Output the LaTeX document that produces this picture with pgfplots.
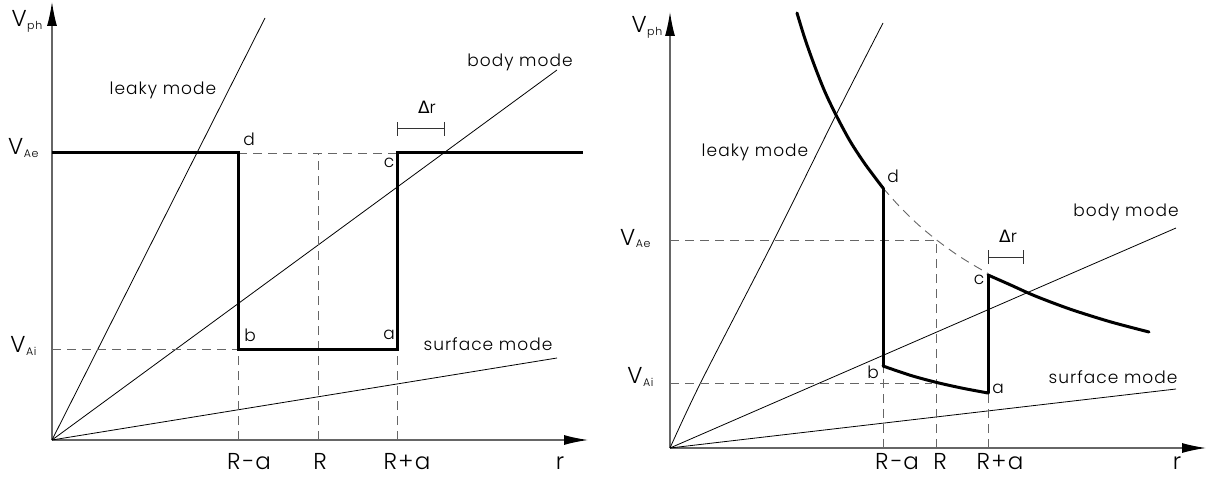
\documentclass[border=0pt]{standalone}
\usepackage{pgfplots}
\pgfplotsset{compat=1.18}
\usepackage{fontspec}
\setmainfont{Poppins Light}[LetterSpace=6]
\newfontfamily\symf{DejaVu Sans}
\usetikzlibrary{arrows.meta}

% V with a small lowered subscript, as in the drawing
\newcommand{\Vsub}[1]{V\kern0.5pt\raisebox{-3pt}{\fontsize{11}{11}\selectfont #1}}

\pgfplotsset{
  panel/.style={width=536pt, scale only axis, xmin=0, xmax=536, ymin=0,
    hide axis, clip=false},
  thin/.style={black, line width=0.8pt},
  heavy/.style={black, line width=3pt, line cap=round},
  dash/.style={black!60, line width=0.9pt, dash pattern=on 9pt off 6pt},
  ax/.style={black!60, line width=1.2pt, -{Latex[length=24pt,width=10pt,color=black]}},
  bar/.style={black!80, line width=1pt, {Bar[width=14pt]}-{Bar[width=14pt]}},
}
\tikzset{
  lbl/.style={font=\fontsize{17}{17}\selectfont},
  tk/.style={font=\fontsize{23}{23}\selectfont, anchor=base},
  pt/.style={font=\fontsize{17}{17}\selectfont},
  vl/.style={font=\fontsize{23}{23}\selectfont},
}

\begin{document}
\begin{tikzpicture}
\useasboundingbox (0,0) rectangle (1207pt,477pt);

% ---------- left: uniform tube ----------
\begin{axis}[panel, height=438pt, ymax=438, at={(52pt,37pt)}, anchor=south west]
  \addplot[ax] coordinates {(0,0) (536,0)};
  \addplot[ax] coordinates {(0,0) (0,438)};
  % modes
  \addplot[thin] coordinates {(0,0) (213,422)};
  \addplot[thin] coordinates {(0,0) (505,370)};
  \addplot[thin] coordinates {(0,0) (505,82)};
  % guides
  \addplot[dash] coordinates {(186,287) (345,287)};
  \addplot[dash] coordinates {(0,91) (186,91)};
  \addplot[dash] coordinates {(186,0) (186,91)};
  \addplot[dash] coordinates {(266,0) (266,287)};
  \addplot[dash] coordinates {(345,0) (345,91)};
  % Alfven speed profile
  \addplot[heavy, line cap=butt] coordinates {(0,287) (186,287) (186,91) (345,91) (345,287) (531,287)};
  \addplot[bar] coordinates {(345,311) (393,311)};

  \node[lbl] at (111,350) {leaky mode};
  \node[lbl] at (468,378) {body mode};
  \node[lbl] at (436,96) {surface mode};
  \node[pt] at (375,333) {{\symf Δ}r};
  \node[pt] at (197,301) {d};
  \node[pt] at (337,277) {c};
  \node[pt] at (198,105) {b};
  \node[pt] at (337,105) {a};

  \node[vl, anchor=base west] at (-44,413) {\Vsub{ph}};
  \node[vl, anchor=base east] at (-10,285) {\Vsub{Ae}};
  \node[vl, anchor=base east] at (-12,88) {\Vsub{Ai}};

  \node[tk] at (197,-29) {R−a};
  \node[tk] at (268,-29) {R};
  \node[tk] at (355,-29) {R+a};
  \node[tk] at (508,-29) {r};
\end{axis}

% ---------- right: stratified tube ----------
\begin{axis}[panel, height=436pt, ymax=436, at={(670pt,29pt)}, anchor=south west]
  \addplot[ax] coordinates {(0,0) (536,0)};
  \addplot[ax] coordinates {(0,0) (0,436)};
  % modes
  \addplot[thin, smooth] coordinates {(0,0) (31,66) (104,208) (166,333) (213,425)};
  \addplot[thin] coordinates {(0,0) (506,220)};
  \addplot[thin] coordinates {(0,0) (506,59)};
  % guides
  \addplot[dash] coordinates {(0,208) (266,208)};
  \addplot[dash] coordinates {(266,0) (266,208)};
  \addplot[dash] coordinates {(0,65) (262,65)};
  \addplot[dash] coordinates {(213,0) (213,82)};
  \addplot[dash] coordinates {(318,0) (318,55)};
  \addplot[dash, smooth] coordinates {(213,260) (230,241) (248,223.5) (266,208.5) (285,194.6) (300,185) (318,174.5)};
  % Alfven speed profile
  \addplot[heavy, smooth] coordinates {(127,435) (135,409) (145,381) (155,356) (166,333) (180,307) (195,284) (213,260)};
  \addplot[heavy] coordinates {(213,260) (213,82)};
  \addplot[heavy, smooth] coordinates {(213,82) (240,72.8) (266,65.7) (292,59.9) (318,55)};
  \addplot[heavy] coordinates {(318,55) (318,173)};
  \addplot[heavy, smooth] coordinates {(318,173) (340,163.3) (365,152.1) (400,138.9) (440,126.3) (479,116)};
  \addplot[bar] coordinates {(318,191) (354,191)};

  \node[lbl] at (85,296) {leaky mode};
  \node[lbl] at (456,236) {body mode};
  \node[lbl] at (443,71) {surface mode};
  \node[pt] at (338,212) {{\symf Δ}r};
  \node[pt] at (223,272) {d};
  \node[pt] at (309,168) {c};
  \node[pt] at (203,76) {b};
  \node[pt] at (328,59) {a};

  \node[vl, anchor=base west] at (-42,415) {\Vsub{ph}};
  \node[vl, anchor=base east] at (-16,203) {\Vsub{Ae}};
  \node[vl, anchor=base east] at (-13,65) {\Vsub{Ai}};

  \node[tk] at (227,-21) {R−a};
  \node[tk] at (270,-21) {R};
  \node[tk] at (330,-21) {R+a};
  \node[tk] at (507,-21) {r};
\end{axis}
\end{tikzpicture}
\end{document}
